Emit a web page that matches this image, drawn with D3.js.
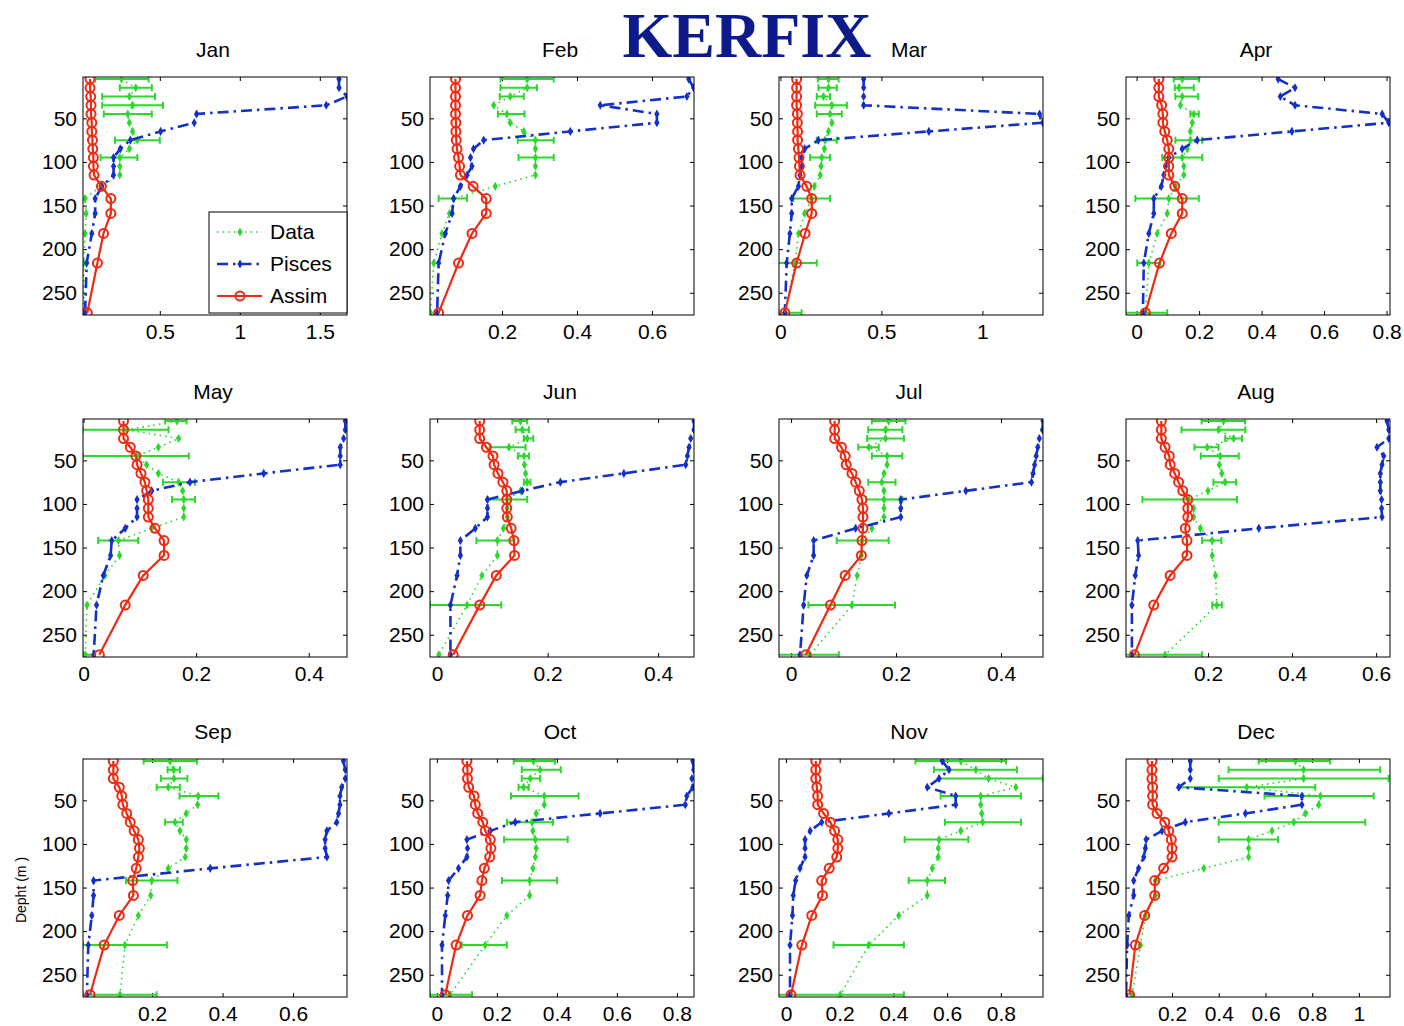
<!DOCTYPE html>
<html>
<head>
<meta charset="utf-8">
<script src="https://cdn.jsdelivr.net/npm/d3@7"></script>
<style>
body { margin: 0; background: #fff; }
svg text { font-family: "Liberation Sans", Arial, sans-serif; }
</style>
</head>
<body>
<div id="chart"></div>
<script>
var months = ["Jan", "Feb", "Mar", "Apr", "May", "Jun", "Jul", "Aug", "Sep", "Oct", "Nov", "Dec"];
var depths = [5, 15, 25, 35, 45, 55, 65, 75, 85, 95, 105, 115, 128, 142, 159, 182, 216, 273];
var depthTicks = [50, 100, 150, 200, 250];

var xDomains = [
    [0.02, 1.67], [0.008, 0.712], [-0.007, 1.3], [-0.034, 0.811],
    [-0.001, 0.468], [-0.013, 0.465], [-0.023, 0.48], [0.005, 0.633],
    [0.004, 0.753], [-0.023, 0.857], [-0.026, 0.957], [0.003, 1.133]
];
var xTicks = [
    [0.5, 1, 1.5], [0.2, 0.4, 0.6], [0, 0.5, 1], [0, 0.2, 0.4, 0.6, 0.8],
    [0, 0.2, 0.4], [0, 0.2, 0.4], [0, 0.2, 0.4], [0.2, 0.4, 0.6],
    [0.2, 0.4, 0.6], [0, 0.2, 0.4, 0.6, 0.8], [0, 0.2, 0.4, 0.6, 0.8], [0.2, 0.4, 0.6, 0.8, 1]
];

var assim = [
    [0.064,0.064,0.068,0.07,0.07,0.075,0.075,0.079,0.081,0.085,0.085,0.089,0.135,0.194,0.194,0.148,0.11,0.047],
    [0.076,0.076,0.076,0.076,0.076,0.077,0.077,0.078,0.08,0.084,0.087,0.089,0.123,0.158,0.158,0.12,0.084,0.031],
    [0.080,0.080,0.080,0.080,0.084,0.084,0.085,0.085,0.089,0.092,0.094,0.097,0.130,0.155,0.155,0.122,0.080,0.022],
    [0.071,0.071,0.071,0.080,0.084,0.084,0.090,0.098,0.103,0.103,0.103,0.103,0.122,0.146,0.146,0.111,0.073,0.028],
    [0.071,0.071,0.071,0.083,0.093,0.095,0.102,0.109,0.112,0.115,0.115,0.115,0.127,0.143,0.143,0.106,0.074,0.028],
    [0.077,0.077,0.077,0.089,0.101,0.103,0.110,0.119,0.126,0.126,0.126,0.127,0.134,0.139,0.140,0.107,0.077,0.029],
    [0.083,0.083,0.083,0.096,0.103,0.105,0.116,0.123,0.130,0.135,0.137,0.137,0.137,0.135,0.134,0.103,0.075,0.028],
    [0.089,0.089,0.089,0.098,0.108,0.110,0.121,0.130,0.140,0.152,0.152,0.152,0.146,0.150,0.150,0.110,0.071,0.025],
    [0.090,0.090,0.090,0.107,0.114,0.117,0.128,0.138,0.149,0.161,0.164,0.161,0.155,0.145,0.147,0.107,0.064,0.024],
    [0.100,0.102,0.102,0.106,0.124,0.128,0.136,0.153,0.161,0.178,0.180,0.176,0.158,0.150,0.144,0.102,0.064,0.028],
    [0.111,0.111,0.111,0.115,0.118,0.118,0.140,0.165,0.181,0.193,0.193,0.189,0.161,0.133,0.136,0.096,0.059,0.019],
    [0.114,0.114,0.114,0.117,0.117,0.117,0.136,0.169,0.186,0.197,0.200,0.200,0.164,0.126,0.126,0.083,0.043,0.018]
];

var pisces = [
    [1.62,1.62,1.67,1.54,0.73,0.715,0.505,0.316,0.253,0.211,0.211,0.211,0.138,0.096,0.096,0.075,0.043,0.033],
    [0.698,0.711,0.693,0.462,0.613,0.613,0.382,0.151,0.124,0.116,0.12,0.107,0.089,0.071,0.067,0.049,0.031,0.027],
    [0.412,0.412,0.412,0.412,1.283,1.299,0.735,0.188,0.12,0.105,0.105,0.097,0.089,0.056,0.056,0.047,0.031,0.022],
    [0.453,0.507,0.46,0.507,0.786,0.807,0.497,0.194,0.146,0.103,0.092,0.087,0.079,0.055,0.055,0.039,0.023,0.02],
    [0.465,0.465,0.462,0.456,0.456,0.456,0.32,0.189,0.121,0.095,0.095,0.095,0.074,0.05,0.048,0.035,0.023,0.018],
    [0.465,0.465,0.459,0.456,0.453,0.450,0.338,0.223,0.154,0.091,0.091,0.091,0.069,0.042,0.042,0.036,0.024,0.024],
    [0.480,0.479,0.473,0.470,0.467,0.464,0.461,0.458,0.333,0.209,0.209,0.209,0.123,0.043,0.043,0.030,0.024,0.017],
    [0.626,0.630,0.630,0.602,0.618,0.614,0.610,0.610,0.610,0.613,0.613,0.614,0.321,0.033,0.035,0.027,0.019,0.019],
    [0.743,0.748,0.748,0.738,0.733,0.733,0.729,0.724,0.696,0.691,0.691,0.696,0.365,0.034,0.034,0.029,0.019,0.015],
    [0.853,0.856,0.850,0.853,0.833,0.828,0.544,0.261,0.178,0.100,0.102,0.100,0.072,0.039,0.036,0.028,0.017,0.017],
    [0.582,0.607,0.570,0.526,0.632,0.632,0.383,0.133,0.090,0.071,0.071,0.071,0.052,0.036,0.027,0.024,0.015,0.015],
    [0.278,0.278,0.278,0.229,0.756,0.756,0.514,0.257,0.157,0.089,0.086,0.079,0.057,0.036,0.036,0.015,0.008,0.003]
];

var dataMean = [
    [0.26,0.35,0.31,0.33,0.30,0.31,0.33,0.36,0.31,0.25,0.25,0.25,0.13,0.033,0.039,0.033,0.025,0.025],
    [0.267,0.267,0.222,0.178,0.213,0.222,0.258,0.289,0.289,0.289,0.289,0.289,0.182,0.071,0.06,0.04,0.018,0.009],
    [0.238,0.238,0.213,0.255,0.246,0.255,0.238,0.221,0.218,0.205,0.201,0.197,0.168,0.155,0.12,0.09,0.072,0.022],
    [0.146,0.135,0.146,0.14,0.183,0.178,0.172,0.172,0.162,0.146,0.151,0.151,0.124,0.103,0.098,0.066,0.039,0.028],
    [0.166,0.077,0.169,0.133,0.095,0.112,0.133,0.169,0.176,0.178,0.178,0.178,0.121,0.062,0.064,0.038,0.006,0.003],
    [0.151,0.154,0.163,0.13,0.157,0.158,0.16,0.163,0.151,0.127,0.127,0.127,0.12,0.109,0.109,0.081,0.054,0.003],
    [0.186,0.18,0.18,0.148,0.183,0.183,0.177,0.173,0.177,0.177,0.177,0.177,0.154,0.135,0.134,0.126,0.116,0.036],
    [0.237,0.225,0.261,0.198,0.229,0.227,0.233,0.241,0.20,0.154,0.166,0.166,0.182,0.21,0.21,0.218,0.221,0.098],
    [0.251,0.261,0.262,0.246,0.331,0.329,0.297,0.265,0.279,0.297,0.297,0.294,0.246,0.199,0.196,0.161,0.123,0.109],
    [0.322,0.344,0.311,0.289,0.358,0.358,0.331,0.317,0.32,0.328,0.331,0.328,0.32,0.309,0.309,0.233,0.161,0.044],
    [0.651,0.707,0.754,0.856,0.725,0.725,0.729,0.732,0.651,0.570,0.567,0.567,0.545,0.526,0.526,0.42,0.308,0.202],
    [0.728,0.763,0.763,0.52,0.835,0.828,0.771,0.721,0.628,0.528,0.528,0.528,0.336,0.129,0.129,0.086,0.065,0.029]
];

// error bar ends, null = no bar drawn
var dataLo = [
    [0.096,0.25,0.14,0.14,0.15,null,null,0.22,null,0.13,null,null,null,null,null,null,null,null],
    [0.196,0.196,0.194,null,0.189,null,null,0.242,null,0.244,null,null,null,0.031,null,null,null,null],
    [0.185,0.188,0.18,0.172,0.18,null,null,0.18,null,0.147,null,null,null,0.064,null,null,-0.027,-0.01],
    [0.119,0.122,0.124,null,0.172,null,null,0.124,null,0.082,null,null,null,-0.004,null,null,0.002,-0.036],
    [0.145,-0.001,null,null,-0.001,null,null,0.141,null,0.157,null,null,null,0.026,null,null,null,-0.001],
    [0.136,0.142,0.157,0.095,0.146,null,null,0.157,null,0.091,null,null,null,0.071,null,null,-0.013,null],
    [0.154,0.147,0.145,0.128,0.154,null,null,0.147,null,0.143,null,null,null,0.087,null,null,0.033,-0.025],
    [0.185,0.137,0.241,0.168,0.183,null,null,0.213,null,0.044,null,null,null,0.186,null,null,0.21,0.002],
    [0.176,0.244,0.225,0.213,0.278,null,null,0.237,null,null,null,null,null,0.126,null,null,0.004,0.004],
    [0.256,0.283,0.283,0.272,0.247,null,null,0.233,null,0.224,null,null,null,0.217,null,null,0.083,-0.023],
    [0.482,0.551,0.570,null,0.576,null,null,0.592,null,0.442,null,null,null,0.457,null,null,0.177,-0.03],
    [0.571,0.442,0.40,0.229,0.596,null,null,0.40,null,0.40,null,null,null,null,null,null,null,null]
];
var dataHi = [
    [0.43,0.45,0.47,0.52,0.45,null,null,0.50,null,0.36,null,null,null,null,null,null,null,null],
    [0.338,0.293,0.258,null,0.26,null,null,0.338,null,0.338,null,null,null,0.107,null,null,null,null],
    [0.288,0.279,0.246,0.329,0.304,null,null,0.279,null,0.246,null,null,null,0.246,null,null,0.18,0.105],
    [0.199,0.183,0.197,null,0.199,null,null,0.21,null,0.21,null,null,null,0.199,null,null,0.076,0.098],
    [0.183,0.151,null,null,0.187,null,null,0.198,null,0.198,null,null,null,0.097,null,null,null,0.018],
    [0.163,0.166,0.174,0.16,0.166,null,null,0.169,null,0.163,null,null,null,0.139,null,null,0.116,null],
    [0.218,0.212,0.215,0.167,0.212,null,null,0.199,null,0.212,null,null,null,0.186,null,null,0.198,0.091],
    [0.288,0.289,0.281,0.225,0.273,null,null,0.267,null,0.269,null,null,null,0.232,null,null,0.233,0.186],
    [0.327,0.279,0.30,0.279,0.388,null,null,0.287,null,null,null,null,null,0.272,null,null,0.242,0.213],
    [0.394,0.413,0.344,0.306,0.472,null,null,0.387,null,0.436,null,null,null,0.40,null,null,0.233,0.117],
    [0.819,0.860,0.956,null,0.875,null,null,0.875,null,0.679,null,null,null,0.592,null,null,0.439,0.439],
    [0.877,1.091,1.127,0.813,1.063,null,null,1.027,null,0.654,null,null,null,null,null,null,null,null]
];

var width = 1404, height = 1026;
var colX = [83, 430, 779, 1126], rowY = [77, 419, 759];
var pw = 264, ph = 238;
var green = "#2cd82c", blue = "#1530c8", red = "#ee2a12";

var svg = d3.select("#chart").append("svg")
    .attr("width", width)
    .attr("height", height);

svg.append("text")
    .attr("x", 747)
    .attr("y", 57)
    .attr("text-anchor", "middle")
    .style("font-family", "'Liberation Serif', 'Times New Roman', serif")
    .style("font-weight", "bold")
    .style("font-size", "64px")
    .attr("fill", "#0c1a8c")
    .text("KERFIX");

var diamond = d3.symbol().type(d3.symbolDiamond).size(24);

months.forEach(function(m, i) {
    var g = svg.append("g")
        .attr("transform", "translate(" + colX[i % 4] + "," + rowY[Math.floor(i / 4)] + ")");

    var x = d3.scaleLinear().domain(xDomains[i]).range([0, pw]);
    var y = d3.scaleLinear().domain([2.6, 275.5]).range([0, ph]);

    g.append("clipPath").attr("id", "clip" + i)
        .append("rect").attr("width", pw).attr("height", ph);

    // AXES
    var fmt = d3.format("~g");
    g.append("g")
        .attr("transform", "translate(0," + ph + ")")
        .call(d3.axisBottom(x).tickValues(xTicks[i]).tickSize(-4).tickPadding(9).tickFormat(fmt));
    g.append("g")
        .call(d3.axisTop(x).tickValues(xTicks[i]).tickSize(-4).tickFormat(""));
    g.append("g")
        .call(d3.axisLeft(y).tickValues(depthTicks).tickSize(-4).tickPadding(6));
    g.append("g")
        .attr("transform", "translate(" + pw + ",0)")
        .call(d3.axisRight(y).tickValues(depthTicks).tickSize(-4).tickFormat(""));

    g.selectAll(".domain").remove();
    g.selectAll(".tick line").attr("stroke", "#000");
    g.selectAll(".tick text")
        .attr("fill", "#000")
        .style("font-size", "21px");

    g.append("text")
        .attr("x", pw / 2 - 2)
        .attr("y", -20)
        .attr("text-anchor", "middle")
        .style("font-size", "21px")
        .text(m);

    var plot = g.append("g").attr("clip-path", "url(#clip" + i + ")");

    var rows = depths.map(function(d, k) {
        return { depth: d, assim: assim[i][k], pisces: pisces[i][k],
                 mean: dataMean[i][k], lo: dataLo[i][k], hi: dataHi[i][k] };
    });

    // DATA
    plot.append("path")
        .datum(rows)
        .attr("fill", "none")
        .attr("stroke", green)
        .attr("stroke-width", 1.6)
        .attr("stroke-dasharray", "1.6,4")
        .attr("d", d3.line().x(function(d) { return x(d.mean); }).y(function(d) { return y(d.depth); }));

    var bars = rows.filter(function(d) { return d.lo !== null; });
    plot.selectAll(".ebar")
        .data(bars)
        .enter().append("path")
        .attr("fill", "none")
        .attr("stroke", green)
        .attr("stroke-width", 2)
        .attr("d", function(d) {
            var yy = y(d.depth), a = x(d.lo), b = x(d.hi);
            return "M" + a + "," + yy + "H" + b +
                "M" + a + "," + (yy - 3.5) + "V" + (yy + 3.5) +
                "M" + b + "," + (yy - 3.5) + "V" + (yy + 3.5);
        });

    plot.selectAll(".dmark")
        .data(rows)
        .enter().append("path")
        .attr("d", diamond)
        .attr("fill", green)
        .attr("transform", function(d) { return "translate(" + x(d.mean) + "," + y(d.depth) + ")"; });

    // PISCES
    plot.append("path")
        .datum(rows)
        .attr("fill", "none")
        .attr("stroke", blue)
        .attr("stroke-width", 2.6)
        .attr("stroke-dasharray", "11,5,2.5,5")
        .attr("d", d3.line().x(function(d) { return x(d.pisces); }).y(function(d) { return y(d.depth); }));

    plot.selectAll(".pmark")
        .data(rows)
        .enter().append("path")
        .attr("d", diamond)
        .attr("fill", blue)
        .attr("transform", function(d) { return "translate(" + x(d.pisces) + "," + y(d.depth) + ")"; });

    // ASSIM
    plot.append("path")
        .datum(rows)
        .attr("fill", "none")
        .attr("stroke", red)
        .attr("stroke-width", 2.2)
        .attr("d", d3.line().x(function(d) { return x(d.assim); }).y(function(d) { return y(d.depth); }));

    plot.selectAll(".amark")
        .data(rows)
        .enter().append("circle")
        .attr("cx", function(d) { return x(d.assim); })
        .attr("cy", function(d) { return y(d.depth); })
        .attr("r", 4.5)
        .attr("fill", "none")
        .attr("stroke", red)
        .attr("stroke-width", 2);

    g.append("rect")
        .attr("width", pw)
        .attr("height", ph)
        .attr("fill", "none")
        .attr("stroke", "#000")
        .attr("stroke-width", 1);

    if (i === 8) {
        g.append("text")
            .attr("transform", "translate(-57," + (ph / 2 + 12) + ") rotate(-90)")
            .attr("text-anchor", "middle")
            .style("font-size", "14px")
            .text("Depht (m )");
    }

    if (i === 0) {
        var lg = g.append("g").attr("transform", "translate(126,135)");
        lg.append("rect")
            .attr("width", 138).attr("height", 101)
            .attr("fill", "#fff").attr("stroke", "#000");
        var entries = [
            { name: "Data", color: green, dash: "1.6,4", w: 1.6 },
            { name: "Pisces", color: blue, dash: "11,5,2.5,5", w: 2.6 },
            { name: "Assim", color: red, dash: null, w: 2.2 }
        ];
        entries.forEach(function(e, k) {
            var yy = 20 + k * 32;
            lg.append("line")
                .attr("x1", 8).attr("x2", 53).attr("y1", yy).attr("y2", yy)
                .attr("stroke", e.color).attr("stroke-width", e.w)
                .attr("stroke-dasharray", e.dash);
            if (k < 2) {
                lg.append("path").attr("d", diamond).attr("fill", e.color)
                    .attr("transform", "translate(31," + yy + ")");
            } else {
                lg.append("circle").attr("cx", 31).attr("cy", yy).attr("r", 4.5)
                    .attr("fill", "none").attr("stroke", e.color).attr("stroke-width", 2);
            }
            lg.append("text")
                .attr("x", 61).attr("y", yy + 7)
                .style("font-size", "21px")
                .text(e.name);
        });
    }
});
</script>
</body>
</html>
